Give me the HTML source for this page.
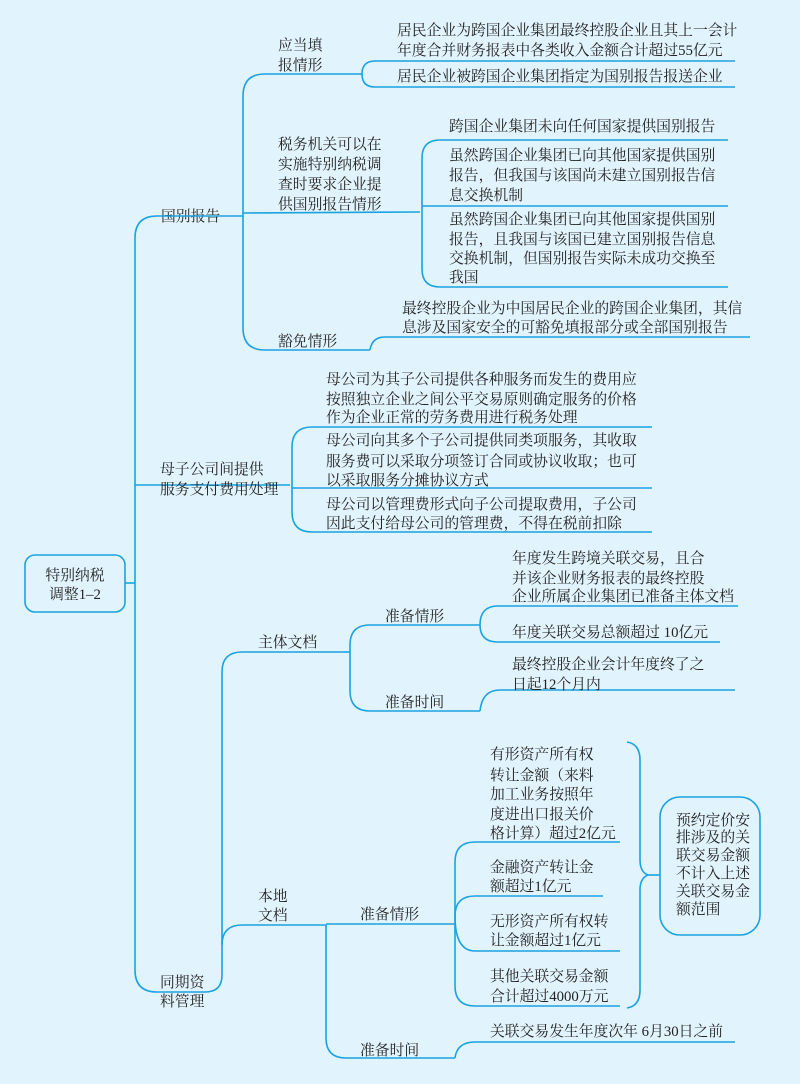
<!DOCTYPE html>
<html><head><meta charset="utf-8"><style>
html,body{margin:0;padding:0;background:#e1f3fc;}
svg{display:block}
text{font-family:"Liberation Serif","Noto Serif CJK SC",serif;font-size:14.8px;fill:#222;dominant-baseline:central}
path,line,rect{stroke:#1aa3e0;stroke-width:1.6;fill:none}
</style></head><body>
<svg width="800" height="1084" viewBox="0 0 800 1084" xmlns="http://www.w3.org/2000/svg">
<rect x="25" y="555" width="100" height="57" rx="10"/>
<text x="75" y="576" text-anchor="middle">特别纳税</text>
<text x="75" y="595" text-anchor="middle">调整1–2</text>
<line x1="125" y1="583" x2="135" y2="583"/>
<path d="M157 216 Q135 216 135 238 L135 970 Q135 992 157 992 L205 992"/>
<path d="M135 485 L290 485"/>
<text x="161" y="217">国别报告</text>
<path d="M157 216 L230 216 L243 216"/>
<path d="M265 74 Q243 74 243 96 L243 328 Q243 350 265 350 L370 350"/>
<path d="M243 213 L420 212"/>
<text x="278" y="46">应当填</text><text x="278" y="66">报情形</text>
<path d="M265 74 L362 74"/>
<path d="M375 61 Q362 61 362 74 Q362 87 375 87 L735 87"/>
<path d="M375 61 L735 61"/>
<text x="397" y="31">居民企业为跨国企业集团最终控股企业且其上一会计</text>
<text x="397" y="51">年度合并财务报表中各类收入金额合计超过55亿元</text>
<text x="397" y="77">居民企业被跨国企业集团指定为国别报告报送企业</text>
<text x="278" y="145">税务机关可以在</text><text x="278" y="165">实施特别纳税调</text>
<text x="278" y="185">查时要求企业提</text><text x="278" y="205">供国别报告情形</text>
<path d="M440 140 Q422 140 422 158 L422 269 Q422 287 440 287 L728 287"/>
<path d="M440 140 L728 140"/>
<path d="M422 206 L728 206"/>
<text x="449" y="127">跨国企业集团未向任何国家提供国别报告</text>
<text x="449" y="156">虽然跨国企业集团已向其他国家提供国别</text>
<text x="449" y="176">报告，但我国与该国尚未建立国别报告信</text>
<text x="449" y="196">息交换机制</text>
<text x="449" y="220">虽然跨国企业集团已向其他国家提供国别</text>
<text x="449" y="240">报告，且我国与该国已建立国别报告信息</text>
<text x="449" y="259">交换机制，但国别报告实际未成功交换至</text>
<text x="449" y="278">我国</text>
<text x="278" y="342">豁免情形</text>
<path d="M370 350 Q372 337 385 337 L750 337"/>
<text x="402" y="309">最终控股企业为中国居民企业的跨国企业集团，其信</text>
<text x="402" y="328">息涉及国家安全的可豁免填报部分或全部国别报告</text>
<text x="160" y="470">母子公司间提供</text>
<text x="160" y="490">服务支付费用处理</text>
<path d="M312 427 Q292 427 292 447 L292 512 Q292 532 312 532 L652 532"/>
<path d="M312 427 L652 427"/>
<path d="M292 488 L652 488"/>
<text x="326" y="380">母公司为其子公司提供各种服务而发生的费用应</text>
<text x="326" y="400">按照独立企业之间公平交易原则确定服务的价格</text>
<text x="326" y="418">作为企业正常的劳务费用进行税务处理</text>
<text x="326" y="441">母公司向其多个子公司提供同类项服务，其收取</text>
<text x="326" y="462">服务费可以采取分项签订合同或协议收取；也可</text>
<text x="326" y="481">以采取服务分摊协议方式</text>
<text x="326" y="505">母公司以管理费形式向子公司提取费用，子公司</text>
<text x="326" y="524">因此支付给母公司的管理费，不得在税前扣除</text>
<text x="160" y="983">同期资</text><text x="160" y="1002">料管理</text>
<path d="M205 992 Q222 992 222 975 L222 672 Q222 652 242 652 L345 652"/>
<path d="M222 945 Q222 925 242 925 L326 925"/>
<text x="258" y="643">主体文档</text>
<path d="M370 625 Q350 625 350 645 L350 691 Q350 711 370 711 L480 711"/>
<path d="M345 652 L350 652"/>
<path d="M370 625 L480 625"/>
<text x="385" y="617">准备情形</text>
<path d="M498 606 Q480 606 480 625 Q480 642 498 642 L720 642"/>
<path d="M498 606 L738 606"/>
<text x="512" y="559">年度发生跨境关联交易，且合</text>
<text x="512" y="579">并该企业财务报表的最终控股</text>
<text x="512" y="597">企业所属企业集团已准备主体文档</text>
<text x="512" y="633">年度关联交易总额超过 10亿元</text>
<text x="385" y="703">准备时间</text>
<path d="M480 711 Q482 690 500 690 L735 690"/>
<text x="512" y="665">最终控股企业会计年度终了之</text>
<text x="512" y="685">日起12个月内</text>
<text x="258" y="897">本地</text><text x="258" y="916">文档</text>
<path d="M326 925 L326 1038 Q326 1058 346 1058 L455 1058"/>
<path d="M326 924 L455 924"/>
<text x="360" y="915">准备情形</text>
<path d="M475 842 Q455 842 455 862 L455 986 Q455 1006 475 1006 L620 1006"/>
<path d="M475 842 L620 842"/>
<path d="M475 896 Q455 896 455 916 Q455 951 475 951 L620 951"/>
<path d="M475 896 L603 896"/>
<text x="490" y="755">有形资产所有权</text>
<text x="490" y="776">转让金额（来料</text>
<text x="490" y="795">加工业务按照年</text>
<text x="490" y="815">度进出口报关价</text>
<text x="490" y="834">格计算）超过2亿元</text>
<text x="490" y="868">金融资产转让金</text>
<text x="490" y="887">额超过1亿元</text>
<text x="490" y="922">无形资产所有权转</text>
<text x="490" y="941">让金额超过1亿元</text>
<text x="490" y="977">其他关联交易金额</text>
<text x="490" y="997">合计超过4000万元</text>
<path d="M627 742 Q640 744 640 760 L640 860 Q640 872 648 875 Q640 878 640 890 L640 990 Q640 1006 627 1008"/>
<path d="M648 875 L660 875"/>
<rect x="660" y="797" width="100" height="138" rx="20"/>
<text x="676" y="821">预约定价安</text>
<text x="676" y="838">排涉及的关</text>
<text x="676" y="856">联交易金额</text>
<text x="676" y="874">不计入上述</text>
<text x="676" y="892">关联交易金</text>
<text x="676" y="910">额范围</text>
<text x="360" y="1051">准备时间</text>
<path d="M455 1058 Q457 1042 475 1042 L735 1042"/>
<text x="490" y="1032">关联交易发生年度次年 6月30日之前</text>
</svg>
</body></html>
